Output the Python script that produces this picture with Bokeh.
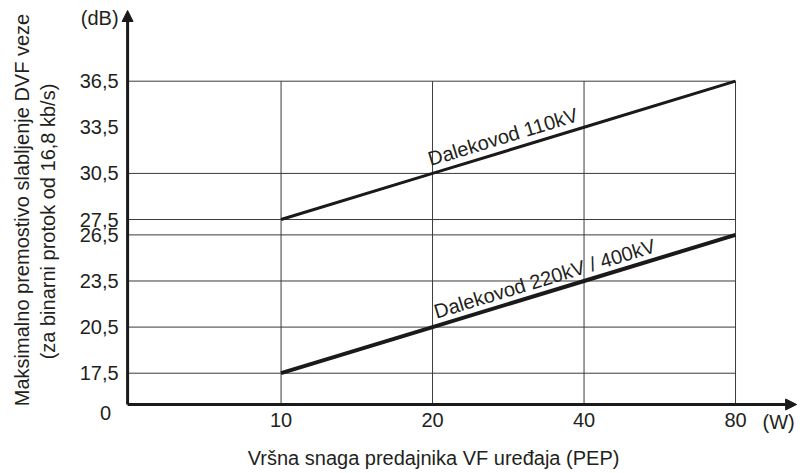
import math
from bokeh.plotting import figure
from bokeh.models import (Range1d, FixedTicker, CustomJSTickFormatter, Label,
                          Arrow, NormalHead)
from bokeh.embed import file_html
from bokeh.resources import INLINE

# ---- data ----
power_w = [10, 20, 40, 80]                      # W (PEP)
x_tick_labels = ["10", "20", "40", "80"]
atten_110kv = [27.5, 30.5, 33.5, 36.5]          # dB
atten_220_400kv = [17.5, 20.5, 23.5, 26.5]      # dB
y_ticks = [17.5, 20.5, 23.5, 26.5, 27.5, 30.5, 33.5, 36.5]
y_grid = [17.5, 20.5, 23.5, 26.5, 27.5, 30.5, 36.5]
label_110 = "Dalekovod 110kV"
label_220 = "Dalekovod 220kV / 400kV"
x_title = "Vršna snaga predajnika VF uređaja (PEP)"
y_title_1 = "Maksimalno premostivo slabljenje DVF veze"
y_title_2 = "(za binarni protok od 16,8 kb/s)"

# ---- layout / style ----
# the frame covers the whole canvas; axes sit at fixed positions inside it
X_MIN, X_MAX = 2.77, 107.7        # canvas x 0..800
Y_MIN, Y_MAX = 11.17, 41.75       # canvas y 470..0
X_AXIS_AT = 4.955                 # W value where the vertical axis stands
Y_AXIS_AT = 15.465                # dB value where the horizontal axis stands
X_ARROW_END = 105.8
Y_ARROW_END = 41.10
FONT = "Liberation Sans"
FS = "20px"
TXT = "#231f20"
INK = "#1a1a1a"
GRID = "#3a3a3a"

p = figure(width=800, height=470, x_axis_type="log",
           x_range=Range1d(X_MIN, X_MAX), y_range=Range1d(Y_MIN, Y_MAX),
           min_border=0, min_border_left=0, min_border_right=0,
           min_border_top=0, min_border_bottom=0,
           output_backend="svg", toolbar_location=None)
p.outline_line_color = None
p.grid.visible = False
p.background_fill_color = "white"
p.border_fill_color = "white"

# axes (tick labels only; axis lines are drawn as arrows)
p.xaxis.fixed_location = Y_AXIS_AT
p.yaxis.fixed_location = X_AXIS_AT
p.xaxis.ticker = FixedTicker(ticks=power_w)
p.xaxis.major_label_overrides = {float(w): t for w, t in zip(power_w, x_tick_labels)}
p.yaxis.ticker = FixedTicker(ticks=y_ticks)
p.yaxis.formatter = CustomJSTickFormatter(code="return tick.toFixed(1).replace('.', ',');")
for ax in (p.xaxis, p.yaxis):
    ax.axis_line_color = None
    ax.major_tick_line_color = None
    ax.minor_tick_line_color = None
    ax.major_tick_out = 0
    ax.major_tick_in = 0
    ax.major_label_text_font = FONT
    ax.major_label_text_font_size = FS
    ax.major_label_text_color = TXT
p.xaxis.major_label_standoff = 9
p.yaxis.major_label_standoff = 9

# grid lines
p.segment(x0=[X_AXIS_AT] * len(y_grid), y0=y_grid,
          x1=[power_w[-1]] * len(y_grid), y1=y_grid,
          line_color=GRID, line_width=1)
p.segment(x0=power_w, y0=[Y_AXIS_AT] * len(power_w),
          x1=power_w, y1=[y_ticks[-1]] * len(power_w),
          line_color=GRID, line_width=1)

# data lines
p.line(power_w, atten_110kv, line_color=INK, line_width=3)
p.line(power_w, atten_220_400kv, line_color=INK, line_width=4)

# axis arrows
for xs, ys, xe, ye in [(X_AXIS_AT, Y_AXIS_AT, X_AXIS_AT, Y_ARROW_END),
                       (X_AXIS_AT, Y_AXIS_AT, X_ARROW_END, Y_AXIS_AT)]:
    p.add_layout(Arrow(end=NormalHead(size=11, fill_color=INK, line_color=INK, line_width=1),
                       x_start=xs, y_start=ys, x_end=xe, y_end=ye,
                       line_color=INK, line_width=3))

def lab(text, x, y, dx=0, dy=0, align="left", base="middle", angle=0.0):
    p.add_layout(Label(text=text, x=x, y=y, x_offset=dx, y_offset=dy,
                       text_align=align, text_baseline=base, angle=angle,
                       text_font=FONT, text_font_size=FS, text_color=TXT))

lab("0", X_AXIS_AT, Y_AXIS_AT, dx=-22, dy=-9, align="center")
lab("(dB)", X_AXIS_AT, Y_ARROW_END, dx=-9, dy=-8, align="right")
lab("(W)", power_w[-1], Y_AXIS_AT, dx=27, dy=-18, align="left")
lab(x_title, 20, Y_AXIS_AT, dx=1, dy=-54, align="center", base="alphabetic")
lab(y_title_1, X_AXIS_AT, 28.12, dx=-106, align="center", base="alphabetic", angle=math.pi / 2)
lab(y_title_2, X_AXIS_AT, 27.37, dx=-80, align="center", base="alphabetic", angle=math.pi / 2)

ang = math.radians(16.9)
lab(label_110, power_w[1], atten_110kv[1], dx=-4, dy=14, base="alphabetic", angle=ang)
lab(label_220, power_w[1], atten_220_400kv[1], dx=2, dy=15, base="alphabetic", angle=ang)

open("out.html", "w").write(file_html(p, INLINE))
